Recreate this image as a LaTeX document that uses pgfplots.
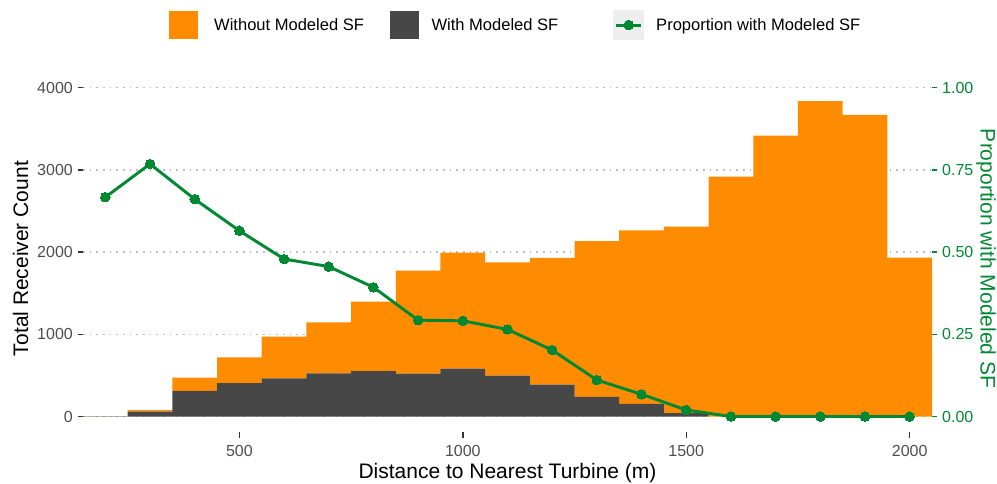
\documentclass[border=0pt]{standalone}
\usepackage{fontspec}
\setmainfont{Liberation Sans}
\usepackage{pgfplots}
\usepackage{pgfplotstable}
\pgfplotsset{compat=1.18}
\definecolor{barorange}{RGB}{255,140,0}
\definecolor{bardark}{RGB}{71,71,71}
\definecolor{propgreen}{RGB}{0,136,50}
\definecolor{gridgray}{RGB}{190,190,190}
\definecolor{tickgray}{RGB}{77,77,77}
\definecolor{tickdark}{RGB}{51,51,51}
\definecolor{keybg}{RGB}{238,238,238}

\pgfplotstableread{
bin with without prop
200 2 1 0.667
300 60 18 0.768
400 312 160 0.661
500 405 315 0.565
600 465 506 0.479
700 524 622 0.456
800 553 844 0.393
900 522 1252 0.293
1000 582 1411 0.291
1100 497 1379 0.265
1200 388 1542 0.202
1300 240 1895 0.111
1400 153 2112 0.0675
1500 42 2268 0.0198
1600 0 2918 0
1700 0 3416 0
1800 0 3838 0
1900 0 3668 0
2000 0 1932 0
}\data

\pgfplotsset{
  common/.style={
    scale only axis, width=636.75pt, height=260.6pt,
    at={(0pt,0pt)}, anchor=south west,
    xmin=150, xmax=2050,
    enlargelimits=false,
    axis line style={draw=none},
    tick align=outside,
    major tick length=4.1pt,
    /pgf/number format/assume math mode=true,
    /pgf/number format/1000 sep={},
    scaled ticks=false,
    tick label style={font=\fontsize{12}{14}\selectfont},
    label style={font=\fontsize{15.75}{18}\selectfont},
  }
}

\begin{document}
\begin{tikzpicture}
\path[use as bounding box] (-62.25pt,-38.775pt) rectangle (685.5pt,324.225pt);
\begin{axis}[common,
  axis x line*=bottom, axis y line*=left,
  ymin=-192, ymax=4035,
  xtick={500,1000,1500,2000},
  ytick={0,1000,2000,3000,4000},
  ymajorgrids,
  grid style={gridgray, line width=1pt, dash pattern=on 1.2pt off 3.8pt},
  tick style={line width=1.1pt, color=tickdark},
  xticklabel style={color=tickgray, yshift=-2pt},
  yticklabel style={color=tickgray},
  xlabel={Distance to Nearest Turbine (m)},
  ylabel={Total Receiver Count},
  xlabel style={at={(axis description cs:0.5,-0.1186)}, anchor=center},
  ylabel style={at={(axis description cs:-0.0736,0.5)}, anchor=center},
  ybar stacked, bar width=100,
]
\addplot[fill=bardark, draw=none] table[x=bin, y=with] {\data};
\addplot[fill=barorange, draw=none] table[x=bin, y=without] {\data};
\end{axis}
\begin{axis}[common,
  axis y line*=right, axis x line=none,
  ymin=-0.048, ymax=1.00875,
  ytick={0,0.25,0.5,0.75,1},
  tick style={line width=1.1pt, color=propgreen},
  yticklabel style={color=propgreen, /pgf/number format/fixed, /pgf/number format/fixed zerofill, /pgf/number format/precision=2},
  ylabel={Proportion with Modeled SF},
  ylabel style={at={(axis description cs:1.0636,0.5)}, anchor=center, rotate=180, color=propgreen},
  legend columns=3,
  legend style={at={(axis description cs:0.5082,1.172)}, anchor=center, draw=none, fill=none,
    font=\fontsize{12.4}{14}\selectfont, column sep=0pt, nodes={inner sep=0pt}},
]
\addlegendimage{legend image code/.code={\fill[barorange] (0pt,-10.1pt) rectangle (21pt,10.1pt);}}
\addlegendentry{\hspace{12.75pt}Without Modeled SF\hspace{19.5pt}\mbox{}}
\addlegendimage{legend image code/.code={\fill[bardark] (0pt,-10.1pt) rectangle (21pt,10.1pt);}}
\addlegendentry{\hspace{9.75pt}With Modeled SF\hspace{41.25pt}\mbox{}}
\addplot[propgreen, line width=2.2pt, mark=*, mark size=3.6pt,
  mark options={solid, fill=propgreen, draw=propgreen, line width=0pt},
  legend image code/.code={\fill[keybg] (0pt,-10.1pt) rectangle (21pt,10.1pt);
    \draw[mark repeat=2, mark phase=2] plot coordinates {(1pt,0pt) (10.5pt,0pt) (20pt,0pt)};}]
  table[x=bin, y=prop] {\data};
\addlegendentry{\hspace{9pt}Proportion with Modeled SF}
\end{axis}
\end{tikzpicture}
\end{document}
